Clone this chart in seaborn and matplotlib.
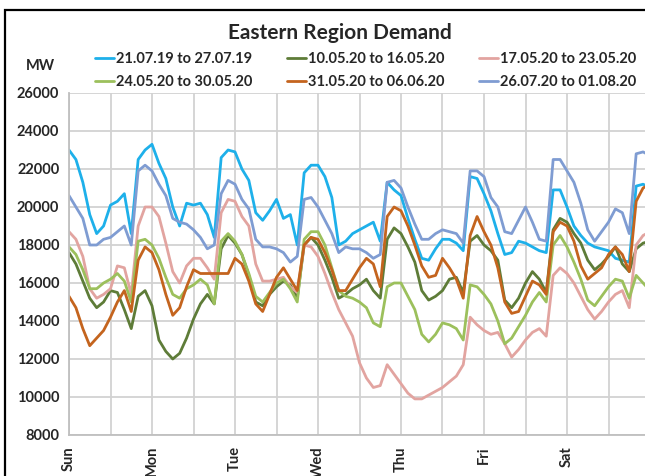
import numpy as np
import pandas as pd
import matplotlib
matplotlib.use("Agg")
import matplotlib.pyplot as plt
import matplotlib.patches as mpatches
from matplotlib.ticker import MultipleLocator
import seaborn as sns

# readings every 2 hours, Sun 00:00 -> next Sun 00:00
hours = list(range(0, 169, 2))
days = ["Sun", "Mon", "Tue", "Wed", "Thu", "Fri", "Sat"]

periods = ["21.07.19 to 27.07.19", "10.05.20 to 16.05.20", "17.05.20 to 23.05.20",
           "24.05.20 to 30.05.20", "31.05.20 to 06.06.20", "26.07.20 to 01.08.20"]
colours = ["#1EB0EA", "#5E7C38", "#E2A4A0", "#9CC05C", "#C4641E", "#7F9CD2"]

mw_210719 = [23000, 22500, 21300, 19600, 18600, 19000, 20100, 20300, 20700, 18600, 22500, 23000,
             23300, 22300, 21500, 20000, 19000, 20200, 20100, 20200, 19600, 18400, 22600, 23000,
             22900, 22000, 21400, 19700, 19300, 19800, 20400, 19400, 19600, 18000, 21800, 22200,
             22200, 21600, 20500, 18000, 18200, 18600, 18800, 19000, 19200, 18200, 21300, 20900,
             20600, 19400, 18300, 17300, 17200, 17800, 18300, 18300, 18100, 17700, 21600, 21500,
             20700, 19800, 18600, 17500, 17600, 18200, 18100, 17900, 17700, 17600, 20900, 20900,
             20000, 19000, 18500, 18100, 17900, 17800, 17700, 17300, 17200, 17100, 21100, 21200,
             21000]
mw_100520 = [17600, 17000, 16100, 15200, 14700, 15000, 15600, 15500, 14600, 13600, 15300, 15600,
             14800, 13000, 12400, 12000, 12300, 13100, 14100, 14900, 15400, 14900, 17800, 18500,
             18100, 17500, 16400, 15000, 14800, 15400, 15800, 16100, 15900, 15200, 18000, 18400,
             18000, 17200, 16300, 15200, 15400, 15700, 15900, 16200, 15600, 15200, 18300, 18900,
             18600, 17900, 17100, 15600, 15100, 15300, 15600, 16200, 16300, 15500, 18200, 18500,
             18000, 17700, 17200, 15100, 14700, 15200, 16000, 16600, 16200, 15500, 18800, 19400,
             19200, 18600, 18100, 17200, 16700, 17000, 17400, 17900, 17000, 16600, 17800, 18100,
             18200]
mw_170520 = [18700, 18300, 17400, 15700, 15200, 15400, 15700, 16900, 16800, 15400, 19000, 20000,
             20000, 19500, 18100, 16600, 16000, 16900, 17300, 17300, 16800, 16200, 19700, 20400,
             20300, 19500, 19000, 17000, 16100, 16100, 16200, 16300, 15800, 15500, 18000, 17900,
             17400, 16500, 15500, 14600, 13900, 13200, 11800, 11000, 10500, 10600, 11700, 11200,
             10700, 10200, 9900, 9900, 10100, 10300, 10500, 10800, 11100, 11700, 14200, 13800,
             13500, 13300, 13400, 12800, 12100, 12500, 13000, 13400, 13600, 13200, 16400, 16800,
             16500, 16000, 15300, 14600, 14100, 14500, 15000, 15400, 15600, 14700, 18000, 18500,
             18700]
mw_240520 = [17900, 17500, 16700, 15700, 15700, 16000, 16200, 16500, 16100, 15000, 18200, 18300,
             18000, 17300, 16300, 15400, 15200, 15700, 15900, 16200, 15900, 14900, 18200, 18600,
             18200, 17500, 16500, 15300, 15000, 15500, 16000, 16200, 15700, 15000, 18300, 18700,
             18700, 18000, 16800, 15600, 15300, 15200, 15000, 14700, 13900, 13700, 15800, 16000,
             16000, 15300, 14600, 13300, 12900, 13300, 13900, 13800, 13600, 13000, 15900, 15800,
             15400, 14900, 14000, 12800, 13100, 13700, 14300, 15000, 15500, 15000, 18000, 18500,
             17900, 17100, 16200, 15100, 14800, 15300, 15800, 16200, 16100, 15200, 16400, 16000,
             15600]
mw_310520 = [15300, 14700, 13600, 12700, 13100, 13500, 14200, 15000, 15600, 14500, 17200, 17900,
             17600, 16700, 15400, 14300, 14700, 15800, 16700, 16500, 16500, 16500, 16500, 16500,
             17300, 17000, 16100, 14900, 14500, 15400, 16300, 16800, 16200, 15600, 18000, 18400,
             18300, 17600, 16700, 15600, 15600, 16200, 16800, 17300, 17000, 15800, 19500, 20000,
             19800, 19000, 18000, 16900, 16300, 16400, 17300, 16800, 16200, 15200, 18500, 19500,
             18700, 18000, 16800, 15000, 14400, 14500, 15300, 16100, 15900, 15400, 18700, 19200,
             19000, 18200, 16900, 16200, 16500, 16800, 17500, 17900, 17500, 16600, 20300, 21000,
             21200]
mw_260720 = [20600, 20000, 19400, 18000, 18000, 18300, 18400, 18700, 19000, 18000, 21900, 22200,
             21900, 21200, 20600, 19400, 19200, 19100, 18800, 18400, 17800, 18000, 20700, 21400,
             21200, 20400, 19900, 18300, 17900, 17900, 17800, 17600, 17100, 17400, 20400, 20500,
             20000, 19300, 18600, 17600, 17900, 17800, 17800, 17600, 17300, 17500, 21300, 21400,
             21000, 20000, 19100, 18300, 18300, 18600, 18800, 18700, 18600, 18100, 21900, 21900,
             21600, 20500, 20000, 18700, 18600, 19300, 20000, 19200, 18300, 18200, 22500, 22500,
             21900, 21300, 20200, 18800, 18200, 18700, 19200, 19900, 19700, 18600, 22800, 22900,
             22700]

series = [mw_210719, mw_100520, mw_170520, mw_240520, mw_310520, mw_260720]
df = pd.DataFrame({
    "hour": hours * len(series),
    "MW": [v for s in series for v in s],
    "period": [p for p in periods for _ in hours],
})

sns.set_style("white")
plt.rcParams['font.family'] = ['Lato', 'DejaVu Sans']
plt.rcParams['font.weight'] = 'bold'

fig = plt.figure(figsize=(6.45, 4.76), dpi=100)
ax = fig.add_axes([69 / 645, 41 / 476, 581 / 645, 342 / 476])

sns.lineplot(data=df, x="hour", y="MW", hue="period", hue_order=periods,
             palette=colours, linewidth=2.0, estimator=None, ax=ax)

handles, labels = ax.get_legend_handles_labels()
ax.get_legend().remove()
order = [0, 3, 1, 4, 2, 5]
fig.legend([handles[i] for i in order], [labels[i] for i in order], ncol=3,
           loc="upper left", bbox_to_anchor=(95 / 645, 1 - 52 / 476), frameon=False,
           fontsize=10.5, handlelength=1.3, handletextpad=0.15, columnspacing=2.35,
           labelspacing=0.62, borderaxespad=0, borderpad=0)

ax.set_xlim(0, 168)
ax.set_ylim(8000, 26000)
ax.set_xticks(range(0, 168, 24))
ax.set_xticklabels(days, rotation=90, fontsize=10.5, fontweight="bold")
ax.xaxis.set_minor_locator(MultipleLocator(12))
ax.set_yticks(range(8000, 26001, 2000))
ax.set_yticklabels([str(v) for v in range(8000, 26001, 2000)], fontsize=10.5, fontweight="bold")
ax.grid(which="both", axis="both", color="#D2D2D2", linewidth=1.3)
ax.tick_params(axis="x", which="both", length=5, color="#BFBFBF", pad=3)
ax.tick_params(axis="y", length=5, color="#D2D2D2", pad=2)
ax.set_xlabel("")
ax.set_ylabel("")
for side in ["top", "right"]:
    ax.spines[side].set_visible(False)
for side in ["left", "bottom"]:
    ax.spines[side].set_color("#BFBFBF")
    ax.spines[side].set_linewidth(1.3)

fig.text(340 / 645, 1 - 33 / 476, "Eastern Region Demand", ha="center", va="center",
         fontsize=15, fontweight="bold")
fig.text(40 / 645, 1 - 66 / 476, "MW", ha="center", va="center", fontsize=10.5, fontweight="bold")

fig.patches.append(mpatches.Rectangle((5 / 645, -0.5), 2, 0.5 + 1 - 10 / 476, fill=False,
                                      edgecolor="black", linewidth=1.6,
                                      transform=fig.transFigure, figure=fig))

fig.savefig("out.png", dpi=100)
